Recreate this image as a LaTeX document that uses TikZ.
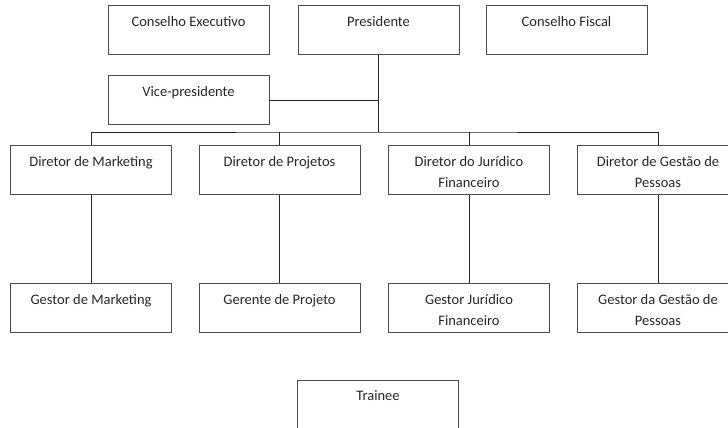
\documentclass[tikz,border=0pt]{standalone}
\usepackage{fontspec}
\setmainfont{Carlito}
\begin{document}
\begin{tikzpicture}[x=1pt,y=-1pt,
  box/.style={draw=black!70, line width=0.9pt, minimum width=161pt, minimum height=49pt, inner sep=0pt},
  lbl/.style={anchor=north, align=center, inner sep=0pt, text=black!85, font=\fontsize{14.5}{21.5}\selectfont},
  conn/.style={draw=black!85, line width=0.9pt}]
\useasboundingbox (0,0) rectangle (728,428);
% boxes
\node[box] (ce) at (188.5,30) {};
\node[box] (pres) at (378.5,30) {};
\node[box] (cf) at (566.5,30) {};
\node[box] (vp) at (188.5,100) {};
\node[box] (dm) at (91,170) {};
\node[box] (dp) at (279.5,170) {};
\node[box] (dj) at (469,170) {};
\node[box] (dg) at (658,170) {};
\node[box] (gm) at (91,308) {};
\node[box] (gp) at (279.5,308) {};
\node[box] (gj) at (469,308) {};
\node[box] (gg) at (658,308) {};
\node[box] (tr) at (378,404.5) {};
% labels
\node[lbl] (tce) at ([yshift=-11pt]ce.north) {Conselho Executivo};
\node[lbl] (tpres) at ([yshift=-11pt]pres.north) {Presidente};
\node[lbl] (tcf) at ([yshift=-11pt]cf.north) {Conselho Fiscal};
\node[lbl] (tvp) at ([yshift=-11pt]vp.north) {Vice-presidente};
\node[lbl] (tdm) at ([yshift=-11pt]dm.north) {Diretor de Marketing};
\node[lbl] (tdp) at ([yshift=-11pt]dp.north) {Diretor de Projetos};
\node[lbl] (tdj) at ([yshift=-11pt]dj.north) {Diretor do Jurídico\\Financeiro};
\node[lbl] (tdg) at ([yshift=-11pt]dg.north) {Diretor de Gestão de\\Pessoas};
\node[lbl] (tgm) at ([yshift=-11pt]gm.north) {Gestor de Marketing};
\node[lbl] (tgp) at ([yshift=-11pt]gp.north) {Gerente de Projeto};
\node[lbl] (tgj) at ([yshift=-11pt]gj.north) {Gestor Jurídico\\Financeiro};
\node[lbl] (tgg) at ([yshift=-11pt]gg.north) {Gestor da Gestão de\\Pessoas};
\node[lbl] (ttr) at ([yshift=-11pt]tr.north) {Trainee};
% connectors
\coordinate (bus) at (378.5,132);
\draw[conn] (pres.south) -- (bus);
\draw[conn] (vp.east) -- (vp.east -| pres.south);
\draw[conn] (dm.north) |- (bus) -| (dg.north);
\draw[conn] (dp.north) -- (dp.north |- bus);
\draw[conn] (dj.north) -- (dj.north |- bus);
\draw[conn] (dm.south) -- (gm.north);
\draw[conn] (dp.south) -- (gp.north);
\draw[conn] (dj.south) -- (gj.north);
\draw[conn] (dg.south) -- (gg.north);
\end{tikzpicture}
\end{document}
